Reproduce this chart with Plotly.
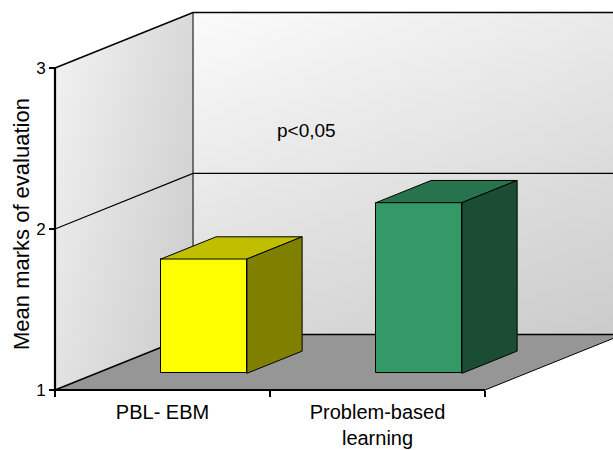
import plotly.graph_objects as go

# ---------------- data ----------------
categories = ["PBL- EBM", "Problem-based<br>learning"]
mean_marks = [1.71, 2.06]
y_ticks = [1, 2, 3]
p_text = "p<0,05"
y_title = "Mean marks of evaluation"

front_colors = ["#ffff00", "#339966"]
top_colors = ["#bfbf00", "#26734d"]
side_colors = ["#808000", "#1a4d33"]

# ---------------- geometry (pseudo 3D) ----------------
W, H = 613, 450
X_RANGE = [-0.7558, 2.0953]
Y_RANGE = [0.6273, 3.4224]
DX, DY = 0.642, 0.345      # full depth vector in data units
F0, F1 = 0.3, 0.7          # bar depth span (fraction of full depth)
BW = 0.4                   # bar width
YMIN, YMAX = y_ticks[0], y_ticks[-1]
XL, XR = -0.5, len(categories) - 0.5
XFAR = 2.5
FONT = "Liberation Sans, Arial, sans-serif"

fig = go.Figure()


def poly(xs, ys, **kw):
    fig.add_trace(go.Scatter(x=xs + [xs[0]], y=ys + [ys[0]], mode="lines",
                             fill="toself", hoverinfo="skip", showlegend=False, **kw))


def line(xs, ys, width=1, color="black", **kw):
    fig.add_trace(go.Scatter(x=xs, y=ys, mode="lines", hoverinfo="skip", showlegend=False,
                             line=dict(color=color, width=width), **kw))


# back wall
bx = [XL + DX, XFAR, XFAR, XL + DX]
by = [YMIN + DY, YMIN + DY, YMAX + DY, YMAX + DY]
poly(bx, by, line=dict(width=0),
     fillgradient=dict(type="horizontal", colorscale=[[0, "#fbfbfb"], [1, "#e6e6e6"]]))
poly(bx, by, line=dict(width=0),
     fillgradient=dict(type="vertical", colorscale=[[0, "rgba(0,0,0,0.13)"], [1, "rgba(0,0,0,0)"]]))

# left wall
lx = [XL, XL, XL + DX, XL + DX]
ly = [YMIN, YMAX, YMAX + DY, YMIN + DY]
poly(lx, ly, line=dict(width=0),
     fillgradient=dict(type="horizontal", colorscale=[[0, "#f3f3f3"], [1, "#d9d9d9"]]))
poly(lx, ly, line=dict(width=0),
     fillgradient=dict(type="vertical", colorscale=[[0, "rgba(0,0,0,0.07)"], [1, "rgba(0,0,0,0)"]]))

# floor
poly([XL, XR, XR + DX, XL + DX], [YMIN, YMIN, YMIN + DY, YMIN + DY],
     line=dict(width=0), fillcolor="#969696")

# gridlines on walls
for v in y_ticks[1:]:
    line([XL, XL + DX, XFAR], [v, v + DY, v + DY], width=1.2 if v < YMAX else 1.6)

# wall / floor edges
line([XL + DX, XL + DX], [YMIN + DY, YMAX + DY], width=1)
line([XL, XL + DX, XFAR], [YMIN, YMIN + DY, YMIN + DY], width=1.6)
line([XR, XR + DX], [YMIN, YMIN + DY], width=1)
# axis lines
line([XL, XR], [YMIN, YMIN], width=2.2)
line([XL, XL], [YMIN, YMAX], width=2.2)

# ---------------- bars (overlay axes, drawn on top) ----------------
xs_front = [i + F0 * DX for i in range(len(categories))]
base = YMIN + F0 * DY
fig.add_trace(go.Bar(x=xs_front, y=[v - YMIN for v in mean_marks], base=base, width=BW,
                     marker=dict(color=front_colors, line=dict(color="black", width=1)),
                     xaxis="x2", yaxis="y2", hoverinfo="skip", showlegend=False))

bdx, bdy = (F1 - F0) * DX, (F1 - F0) * DY
for xc, v, tc, sc in zip(xs_front, mean_marks, top_colors, side_colors):
    x0, x1 = xc - BW / 2, xc + BW / 2
    top = v + F0 * DY
    poly([x0, x1, x1 + bdx, x0 + bdx], [top, top, top + bdy, top + bdy],
         fillcolor=tc, line=dict(color="black", width=1), xaxis="x2", yaxis="y2")
    poly([x1, x1, x1 + bdx, x1 + bdx], [base, top, top + bdy, base + bdy],
         fillcolor=sc, line=dict(color="black", width=1), xaxis="x2", yaxis="y2")

# ---------------- layout ----------------
fig.update_layout(
    width=W, height=H,
    margin=dict(l=0, r=0, t=0, b=0, autoexpand=False),
    paper_bgcolor="white", plot_bgcolor="white",
    font=dict(family=FONT, color="black"),
    showlegend=False,
    bargap=0,
    xaxis=dict(range=X_RANGE, anchor="free", position=60 / 450, automargin=False,
               tickmode="array", tickvals=list(range(len(categories))), ticktext=categories,
               ticks="", showgrid=False, zeroline=False, showline=False,
               tickfont=dict(size=20, family=FONT), ticklabelstandoff=8,
               minor=dict(tickmode="array", tickvals=[XL + k for k in range(len(categories) + 1)],
                          ticks="outside", ticklen=6, tickwidth=2, tickcolor="black", showgrid=False)),
    yaxis=dict(range=Y_RANGE, anchor="free", position=55 / 613, automargin=False,
               tickmode="array", tickvals=y_ticks, ticks="outside", ticklen=6, tickwidth=2,
               tickcolor="black", showgrid=False, zeroline=False, showline=False,
               tickfont=dict(size=17, family=FONT)),
    xaxis2=dict(range=X_RANGE, overlaying="x", visible=False),
    yaxis2=dict(range=Y_RANGE, overlaying="y", visible=False),
    annotations=[
        dict(x=0.672, y=2.609, xref="x", yref="y", text=p_text, showarrow=False,
             xanchor="center", yanchor="middle", font=dict(size=19, family=FONT)),
        dict(x=21 / 613, y=(450 - 224) / 450, xref="paper", yref="paper", text=y_title,
             textangle=-90, showarrow=False, xanchor="center", yanchor="middle",
             font=dict(size=22, family=FONT)),
    ],
)

fig.write_html("out.html", config={"displayModeBar": False},
               post_script="document.body.style.margin='0';document.body.style.overflow='hidden';")
